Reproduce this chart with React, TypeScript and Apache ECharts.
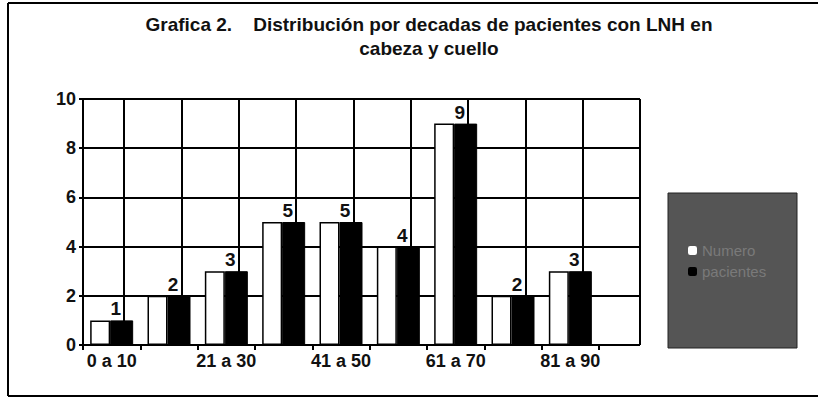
import React, { useEffect, useRef } from "react";
import * as echarts from "echarts";

const categories = ["0 a 10", "11 a 20", "21 a 30", "31 a 40", "41 a 50", "51 a 60", "61 a 70", "71 a 80", "81 a 90"];
const seriesNames = ["Numero", "pacientes"];
const whiteValues = [1, 2, 3, 5, 5, 4, 9, 2, 3];
const blackValues = [1, 2, 3, 5, 5, 4, 9, 2, 3];
const titleLines = ["Grafica 2.    Distribución por decadas de pacientes con LNH en", "cabeza y cuello"];

const FONT = "'Liberation Sans', Arial, sans-serif";

export default function App() {
  const ref = useRef<HTMLDivElement>(null);
  useEffect(() => {
    if (!ref.current) return;
    const chart = echarts.init(ref.current, undefined, { renderer: "svg" });
    const black = "#000";
    chart.setOption({
      animation: false,
      backgroundColor: "#fff",
      textStyle: { fontFamily: FONT },
      title: {
        text: titleLines.join("\n"),
        left: 424,
        textAlign: "center",
        top: 7,
        textStyle: { fontFamily: FONT, fontSize: 19, fontWeight: "bold", color: "#111", lineHeight: 24 },
      },
      legend: {
        orient: "vertical",
        left: 683,
        top: 238,
        itemWidth: 9,
        itemHeight: 9,
        itemGap: 6,
        data: [
          { name: seriesNames[0], itemStyle: { color: "#fff", borderWidth: 0 } },
          { name: seriesNames[1], itemStyle: { color: "#000", borderWidth: 0 } },
        ],
        textStyle: { color: "#7a7a7a", fontSize: 15, fontFamily: FONT },
        z: 10,
      },
      graphic: [
        { type: "rect", shape: { x: 668, y: 193, width: 129, height: 155 }, style: { fill: "#555", stroke: "#222", lineWidth: 1 }, z: 1 },
        { type: "line", shape: { x1: 8, y1: 3, x2: 818, y2: 3 }, style: { stroke: black, lineWidth: 2 } },
        { type: "line", shape: { x1: 8, y1: 3, x2: 8, y2: 396 }, style: { stroke: black, lineWidth: 2 } },
        { type: "line", shape: { x1: 8, y1: 396, x2: 818, y2: 396 }, style: { stroke: black, lineWidth: 2 } },
      ],
      grid: [
        { left: 124, width: 516, top: 99, height: 246 },
        { left: 83, width: 516, top: 99, height: 246 },
      ],
      xAxis: [
        {
          gridIndex: 0,
          type: "value",
          min: 0,
          max: 9,
          interval: 1,
          axisLine: { show: false },
          axisTick: { show: false },
          axisLabel: { show: false },
          splitLine: { show: true, lineStyle: { color: black, width: 2 } },
        },
        {
          gridIndex: 1,
          type: "category",
          data: categories,
          axisLine: { show: true, lineStyle: { color: black, width: 2 } },
          axisTick: { show: true, interval: 0, length: 5, lineStyle: { color: black, width: 2 } },
          axisLabel: { interval: 1, color: "#111", fontSize: 18, fontWeight: "bold", fontFamily: FONT, margin: 7 },
          splitLine: { show: false },
        },
      ],
      yAxis: [
        {
          gridIndex: 0,
          type: "value",
          min: 0,
          max: 10,
          interval: 2,
          axisLine: { show: false },
          axisTick: { show: false },
          axisLabel: { show: false },
          splitLine: { show: true, lineStyle: { color: black, width: 2 } },
        },
        {
          gridIndex: 1,
          type: "value",
          min: 0,
          max: 10,
          interval: 2,
          axisLine: { show: true, lineStyle: { color: black, width: 2 } },
          axisTick: { show: true, length: 4, lineStyle: { color: black, width: 2 } },
          axisLabel: { color: "#111", fontSize: 18, fontWeight: "bold", fontFamily: FONT, margin: 7 },
          splitLine: { show: true, lineStyle: { color: black, width: 2 } },
        },
      ],
      series: [
        {
          name: seriesNames[0],
          type: "bar",
          xAxisIndex: 1,
          yAxisIndex: 1,
          data: whiteValues,
          barWidth: 20,
          barGap: "0%",
          itemStyle: { color: "#fff", borderColor: black, borderWidth: 1.5 },
          z: 3,
        },
        {
          name: seriesNames[1],
          type: "bar",
          xAxisIndex: 1,
          yAxisIndex: 1,
          data: blackValues,
          barWidth: 23,
          barGap: "0%",
          itemStyle: { color: black, borderColor: black, borderWidth: 1 },
          label: {
            show: true,
            position: "top",
            offset: [-6, 3],
            color: "#111",
            fontSize: 19,
            fontWeight: "bold",
            fontFamily: FONT,
          },
          z: 3,
        },
      ],
    });
    return () => chart.dispose();
  }, []);
  return <div ref={ref} style={{ position: "fixed", left: 0, top: 0, width: 818, height: 401 }} />;
}
